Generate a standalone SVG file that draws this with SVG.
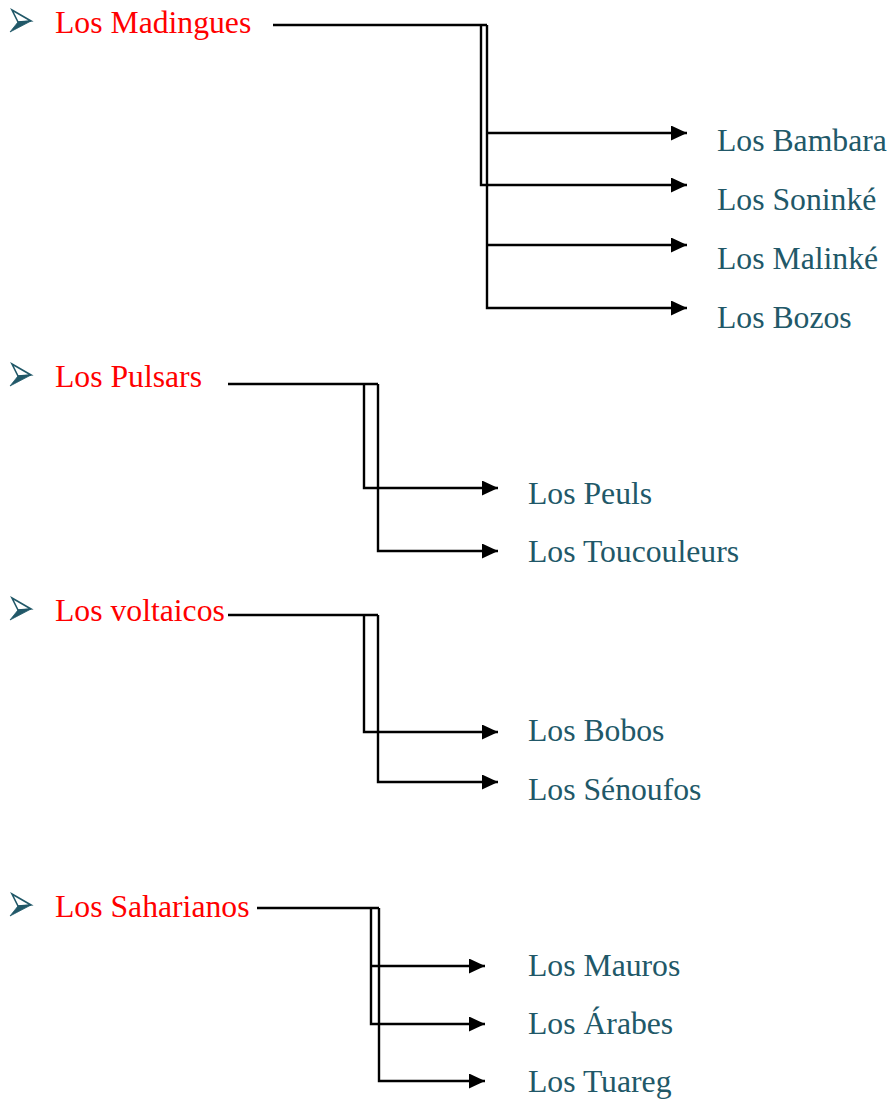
<svg xmlns="http://www.w3.org/2000/svg" width="892" height="1102" viewBox="0 0 892 1102">
<style>
.head{font-family:"Liberation Serif","Times New Roman",serif;font-size:31.7px;fill:#ff0000}
.item{font-family:"Liberation Serif","Times New Roman",serif;font-size:31.7px;fill:#215868}
.conn{fill:none;stroke:#000;stroke-width:2.4;stroke-linejoin:miter}
.arr{marker-end:url(#ah)}
.bl-top{fill:#fff;stroke:#215868;stroke-width:1.6;stroke-linejoin:miter}
.bl-bot{fill:#215868;stroke:#215868;stroke-width:0.8}
</style>
<defs>
<marker id="ah" markerUnits="userSpaceOnUse" markerWidth="17" markerHeight="16" refX="16" refY="7.5" orient="auto" viewBox="0 0 17 16">
<path d="M0,0 L16,7.5 L0,15 z" fill="#000"/>
</marker>
<g id="bullet">
<polygon class="bl-top" points="12,10 31,21 18,22"/>
<polygon class="bl-bot" points="18,22 31,21 10,32"/>
</g>
</defs>
<rect width="892" height="1102" fill="#fff"/>

<g id="connectors">
<path class="conn" d="M273,25 H487"/>
<path class="conn arr" d="M481,25 V185 H687"/>
<path class="conn arr" d="M487,25 V308 H687"/>
<path class="conn arr" d="M487,133 H687"/>
<path class="conn arr" d="M487,245 H687"/>

<path class="conn" d="M228,384 H378"/>
<path class="conn arr" d="M364,384 V488 H498"/>
<path class="conn arr" d="M378,384 V551 H498"/>

<path class="conn" d="M228,615 H378"/>
<path class="conn arr" d="M364,615 V732 H498"/>
<path class="conn arr" d="M378,615 V782 H498"/>

<path class="conn" d="M257,908 H379"/>
<path class="conn arr" d="M371,908 V1024 H485"/>
<path class="conn arr" d="M379,908 V1081 H485"/>
<path class="conn arr" d="M371,966 H485"/>
</g>

<g id="madingues">
<use href="#bullet" x="0" y="0"/>
<text class="head" x="55" y="33">Los Madingues</text>
</g>
<g id="bambara"><text class="item" x="717" y="151">Los Bambara</text></g>
<g id="soninke"><text class="item" x="717" y="210">Los Soninké</text></g>
<g id="malinke"><text class="item" x="717" y="269">Los Malinké</text></g>
<g id="bozos"><text class="item" x="717" y="328">Los Bozos</text></g>

<g id="pulsars">
<use href="#bullet" x="0" y="354"/>
<text class="head" x="55" y="387">Los Pulsars</text>
</g>
<g id="peuls"><text class="item" x="528" y="504">Los Peuls</text></g>
<g id="toucouleurs"><text class="item" x="528" y="562">Los Toucouleurs</text></g>

<g id="voltaicos">
<use href="#bullet" x="0" y="588"/>
<text class="head" x="55" y="621">Los voltaicos</text>
</g>
<g id="bobos"><text class="item" x="528" y="741">Los Bobos</text></g>
<g id="senoufos"><text class="item" x="528" y="800">Los Sénoufos</text></g>

<g id="saharianos">
<use href="#bullet" x="0" y="884"/>
<text class="head" x="55" y="917">Los Saharianos</text>
</g>
<g id="mauros"><text class="item" x="528" y="976">Los Mauros</text></g>
<g id="arabes"><text class="item" x="528" y="1034">Los Árabes</text></g>
<g id="tuareg"><text class="item" x="528" y="1092">Los Tuareg</text></g>
</svg>
